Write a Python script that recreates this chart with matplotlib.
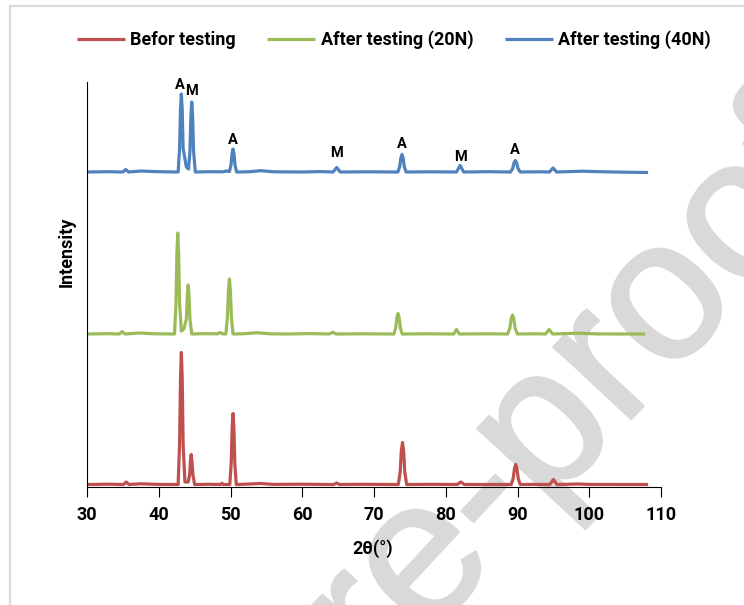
"""XRD patterns of the steel before and after wear testing (20 N, 40 N)."""
import matplotlib
matplotlib.use("Agg")
import matplotlib.pyplot as plt
import matplotlib.patheffects as pe
from matplotlib.patches import Rectangle

plt.rcParams["font.family"] = ["Roboto", "DejaVu Sans"]

# --- diffractograms (2theta in deg, intensity in arb. units, stacked) -------
before_x = [30.0, 33.0, 35.1, 35.47, 35.85, 37.5, 40.0,
            42.70, 42.90, 43.03, 43.15, 43.27, 43.40, 43.65,
            44.10, 44.30, 44.42, 44.52, 44.62, 44.77, 45.00,
            47.0, 48.6, 48.8, 49.0,
            49.90, 50.10, 50.23, 50.35, 50.47, 50.60, 50.80,
            52.0, 54.2, 56.0, 60.0, 62.5, 64.4, 64.8, 65.2, 68.0,
            73.39, 73.65, 73.81, 73.97, 74.13, 74.29, 74.55,
            78.0, 81.6, 82.1, 82.6,
            89.12, 89.40, 89.58, 89.75, 89.92, 90.10, 90.38,
            92.0, 94.5, 95.0, 95.5, 98.5, 100.0, 104.0, 108.2]
before_y = [2.5, 2.8, 2.5, 5.0, 2.5, 3.2, 2.6,
            2.5, 42.0, 108.0, 134.5, 108.0, 42.0, 5.0,
            5.0, 12.0, 26.0, 32.5, 26.0, 12.0, 2.5,
            2.7, 2.5, 3.8, 2.5,
            2.5, 23.8, 59.3, 73.5, 59.3, 23.8, 2.5,
            2.8, 3.5, 2.6, 2.8, 2.6, 2.5, 4.0, 2.5, 2.7,
            2.5, 15.1, 36.1, 44.5, 36.1, 15.1, 2.5,
            2.7, 2.5, 5.0, 2.5,
            2.5, 8.5, 18.5, 22.5, 18.5, 8.5, 2.5,
            2.6, 2.5, 7.5, 2.5, 3.0, 2.6, 2.5, 2.5]

after20_x = [30.0, 33.0, 34.5, 34.9, 35.3, 37.2, 39.5,
             42.20, 42.40, 42.53, 42.65, 42.77, 42.90, 43.15, 43.50,
             43.85, 43.98, 44.10, 44.22, 44.35, 44.60,
             46.0, 48.2, 48.5, 48.9,
             49.35, 49.57, 49.72, 49.85, 49.98, 50.13, 50.35,
             52.0, 53.7, 55.5, 58.0, 61.0, 63.8, 64.25, 64.7, 68.0,
             72.77, 73.03, 73.19, 73.35, 73.51, 73.67, 73.93,
             77.0, 81.1, 81.5, 81.9, 86.0,
             88.62, 88.93, 89.12, 89.30, 89.48, 89.67, 89.98,
             92.5, 93.9, 94.4, 94.9, 98.3, 101.0, 105.0, 107.8]
after20_y = [153.0, 153.3, 153.0, 155.5, 153.0, 154.0, 153.2,
             153.0, 183.3, 233.8, 254.0, 233.8, 183.3, 156.0, 158.0,
             168.0, 192.0, 202.0, 192.0, 167.7, 153.0,
             153.3, 153.2, 154.5, 153.2,
             153.0, 169.5, 197.0, 208.0, 197.0, 169.5, 153.0,
             153.3, 154.3, 153.2, 153.0, 153.4, 153.0, 154.8, 153.0, 153.2,
             153.0, 159.2, 169.4, 173.5, 169.4, 159.2, 153.0,
             153.2, 153.0, 157.5, 153.0, 153.2,
             153.0, 158.7, 168.2, 172.0, 168.2, 158.7, 153.0,
             153.2, 153.0, 157.5, 153.0, 153.8, 153.1, 153.0, 153.0]

after40_x = [30.0, 33.0, 35.0, 35.4, 35.8, 37.5, 40.0,
             42.70, 42.90, 43.03, 43.15, 43.27, 43.40, 43.85,
             44.15, 44.35, 44.48, 44.60, 44.72, 44.85, 45.10,
             47.0, 49.0, 49.4,
             49.85, 50.07, 50.22, 50.35, 50.48, 50.63, 50.85,
             52.5, 54.2, 56.0, 60.0, 62.5, 64.3, 64.8, 65.3, 69.0,
             73.32, 73.58, 73.74, 73.90, 74.06, 74.22, 74.48,
             78.0, 81.5, 82.0, 82.5, 86.0,
             89.02, 89.33, 89.52, 89.70, 89.88, 90.07, 90.38,
             93.0, 94.45, 94.95, 95.45, 99.0, 102.0, 105.0, 108.2]
after40_y = [315.0, 315.3, 315.0, 317.5, 315.0, 316.0, 315.3,
             315.0, 338.4, 377.4, 393.0, 377.4, 338.4, 320.0,
             318.0, 336.0, 371.0, 385.0, 371.0, 336.0, 315.0,
             315.3, 315.2, 316.0,
             315.5, 322.0, 333.4, 338.0, 333.4, 322.0, 315.0,
             315.2, 316.3, 315.2, 315.0, 315.4, 315.0, 319.5, 315.0, 315.2,
             315.0, 320.3, 329.0, 332.5, 329.0, 320.3, 315.0,
             315.2, 315.0, 321.5, 315.0, 315.3,
             315.0, 318.5, 324.2, 326.5, 324.2, 318.5, 315.0,
             315.2, 315.0, 319.0, 315.0, 315.8, 315.2, 314.8, 314.5]

series_labels = ["Befor testing", "After testing (20N)", "After testing (40N)"]
series_colors = ["#c0504d", "#9bbb59", "#4f81bd"]

# phase markers on the 40 N pattern (A = austenite, M = martensite)
phase_x = [42.92, 44.63, 50.35, 64.8, 73.9, 82.0, 89.7]
phase_peak = [43.15, 44.60, 50.35, 64.8, 73.9, 82.0, 89.7]
phase_names = ["A", "M", "A", "M", "A", "M", "A"]
phase_lift = [9, 11, 9, 14.5, 10.5, 8.5, 10.5]

W, H = 744, 605
fig = plt.figure(figsize=(W / 100, H / 100), dpi=100)

# page frame and watermark behind everything
fig.patches.append(Rectangle((10 / W, -0.2), 1.2, 1 - 6 / H + 0.2,
                             transform=fig.transFigure, fill=False,
                             edgecolor="#dcdcdc", linewidth=1.6, zorder=-2))
fig.text(-197 / W, 1 - 1307 / H, "Journal Pre-proof", fontsize=144,
         family="Liberation Sans", color="#d9d9d9",
         rotation=47, rotation_mode="anchor", ha="left", va="baseline",
         zorder=-1,
         path_effects=[pe.withStroke(linewidth=2, foreground="#d9d9d9")])

ax = fig.add_axes([87 / W, 1 - 487 / H, 574 / W, 405 / H])
ax.patch.set_alpha(0)

for xs, ys, lab, col in zip([before_x, after20_x, after40_x],
                            [before_y, after20_y, after40_y],
                            series_labels, series_colors):
    ax.plot(xs, ys, color=col, lw=2.3, label=lab, solid_capstyle="butt")

for x, xp, name, lift in zip(phase_x, phase_peak, phase_names, phase_lift):
    top = max(y for xx, y in zip(after40_x, after40_y) if abs(xx - xp) < 0.2)
    ax.text(x, top + lift, name, ha="center", va="center",
            fontsize=10.5, fontweight="bold")

ax.set_xlim(30, 110)
ax.set_ylim(0, 405)
ax.set_xticks(range(30, 111, 10))
ax.set_yticks([])
for s in ("top", "right"):
    ax.spines[s].set_visible(False)
for s in ("left", "bottom"):
    ax.spines[s].set_linewidth(0.8)
ax.tick_params(axis="x", direction="out", length=7, width=0.8, pad=7)
for t in ax.get_xticklabels():
    t.set_fontsize(13)
    t.set_fontweight("bold")

ax.set_xlabel("2θ(°)", fontsize=13, fontweight="bold")
ax.xaxis.set_label_coords(0.498, -0.128)
ax.set_ylabel("Intensity", fontsize=13, fontweight="bold")
ax.yaxis.set_label_coords(-0.02, 0.58)

fig.legend(loc="center", bbox_to_anchor=(394 / W, 1 - 40 / H), ncol=3,
           frameon=False, handlelength=2.65, handletextpad=0.3,
           columnspacing=1.75, prop={"size": 13, "weight": "bold"})

fig.savefig("out.png", dpi=100)
